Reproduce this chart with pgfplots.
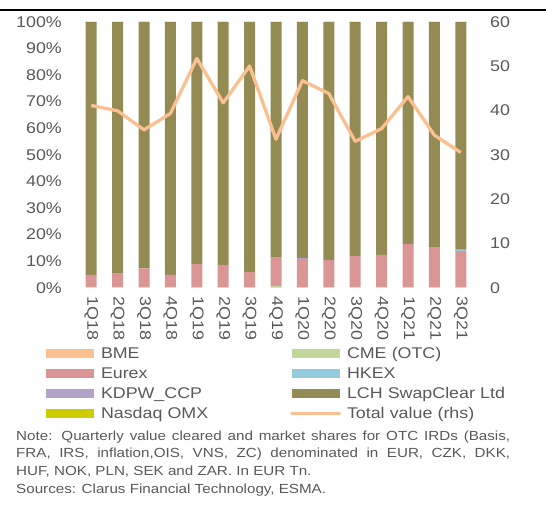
\documentclass[border=0pt]{standalone}
\usepackage{fontspec}
\setmainfont{Liberation Sans}[FakeStretch=1.15]
\usepackage{pgfplots}
\pgfplotsset{compat=1.18}
\definecolor{bme}{HTML}{FAC090}
\definecolor{cme}{HTML}{C3D69B}
\definecolor{eurex}{HTML}{D99694}
\definecolor{hkex}{HTML}{93CDDD}
\definecolor{kdpw}{HTML}{B3A2C7}
\definecolor{lch}{HTML}{948A54}
\definecolor{nasdaq}{HTML}{CCCC00}
\definecolor{totc}{HTML}{FAC090}
\definecolor{labgray}{HTML}{595959}
\pgfplotsset{
  sw/.style={fill=#1, draw=none, legend image code/.code={\fill[#1] (0bp,-4.5bp) rectangle (48bp,4.5bp);}},
}
\newcommand{\lab}{\fontsize{15.5bp}{18bp}\selectfont}
\newcommand{\notef}{\fontsize{13.2bp}{17.7bp}\selectfont}
\begin{document}
\begin{tikzpicture}[x=1bp,y=1bp]
\path[use as bounding box] (0,-516) rectangle (546,0);
\draw[line width=2bp] (0,-10) -- (546,-10);
\begin{axis}[
  at={(78bp,-287.7bp)}, anchor=south west,
  scale only axis, width=396bp, height=266bp,
  xmin=-0.5, xmax=14.5, ymin=0, ymax=100,
  ybar stacked, bar width=11bp,
  axis line style={draw=none}, major tick length=0pt,
  /pgf/number format/assume math mode=true,
  xtick={0,...,14},
  xticklabels={1Q18,2Q18,3Q18,4Q18,1Q19,2Q19,3Q19,4Q19,1Q20,2Q20,3Q20,4Q20,1Q21,2Q21,3Q21},
  ytick={0,10,...,100},
  yticklabels={0\%,10\%,20\%,30\%,40\%,50\%,60\%,70\%,80\%,90\%,100\%},
  ticklabel style={font=\lab, text=labgray},
  yticklabel style={anchor=east, inner sep=0pt, xshift=-16bp},
  xticklabel style={rotate=-90, anchor=west, inner sep=0pt},
  xticklabel shift=9bp,
  legend columns=2,
  legend cell align=left,
  legend style={at={(-0.0808,-0.2173)}, anchor=north west, draw=none, fill=none,
    inner sep=0pt, outer sep=0pt, row sep=5bp, column sep=0pt,
    font=\lab, text=labgray,
    nodes={inner sep=0pt, text width=189bp, text height=13bp, text depth=2bp, align=left},
    /tikz/column 1/.style={column sep=7bp},
    /tikz/column 2/.style={column sep=0pt},
    /tikz/column 3/.style={column sep=6bp}},
]
\addplot[sw=bme] coordinates {(0,0)(1,0)(2,0)(3,0)(4,0)(5,0)(6,0)(7,0)(8,0)(9,0)(10,0)(11,0)(12,0)(13,0)(14,0)};
\addlegendentry{BME}
\addplot[sw=cme] coordinates {(0,0.3)(1,0.3)(2,0.3)(3,0.3)(4,0.2)(5,0.2)(6,0.2)(7,0.7)(8,0.2)(9,0.2)(10,0.3)(11,0.3)(12,0.2)(13,0.2)(14,0.2)};
\addlegendentry{CME (OTC)}
\addplot[sw=eurex] coordinates {(0,4.5)(1,5.2)(2,7.0)(3,4.5)(4,8.7)(5,8.3)(6,5.7)(7,10.8)(8,10.6)(9,10.3)(10,11.6)(11,12.0)(12,16.3)(13,15.1)(14,13.6)};
\addlegendentry{Eurex}
\addplot[sw=hkex] coordinates {(0,0)(1,0)(2,0)(3,0)(4,0)(5,0)(6,0)(7,0)(8,0)(9,0)(10,0)(11,0)(12,0)(13,0)(14,0.5)};
\addlegendentry{HKEX}
\addplot[sw=kdpw] coordinates {(0,0)(1,0)(2,0)(3,0)(4,0)(5,0)(6,0)(7,0)(8,0.3)(9,0)(10,0)(11,0)(12,0)(13,0)(14,0)};
\addlegendentry{KDPW\_CCP}
\addplot[sw=lch] coordinates {(0,95.0)(1,94.3)(2,92.5)(3,95.0)(4,90.9)(5,91.3)(6,93.9)(7,88.3)(8,88.7)(9,89.3)(10,87.9)(11,87.5)(12,83.3)(13,84.5)(14,85.5)};
\addlegendentry{LCH SwapClear Ltd}
\addplot[sw=nasdaq] coordinates {(0,0.2)(1,0.2)(2,0.2)(3,0.2)(4,0.2)(5,0.2)(6,0.2)(7,0.2)(8,0.2)(9,0.2)(10,0.2)(11,0.2)(12,0.2)(13,0.2)(14,0.2)};
\addlegendentry{Nasdaq OMX}
\addlegendimage{legend image code/.code={\draw[totc, line width=3bp, line cap=round] (0bp,0bp) -- (48bp,0bp);}}
\addlegendentry{Total value (rhs)}
\end{axis}
\begin{axis}[
  at={(78bp,-287.7bp)}, anchor=south west,
  scale only axis, width=396bp, height=266bp,
  xmin=-0.5, xmax=14.5, ymin=0, ymax=60,
  axis line style={draw=none}, major tick length=0pt,
  xtick=\empty,
  ytick={0,10,...,60},
  yticklabels={0,10,20,30,40,50,60},
  yticklabel pos=right,
  ticklabel style={font=\lab, text=labgray},
  yticklabel style={anchor=west, inner sep=0pt, xshift=16bp},
]
\addplot[totc, line width=3.3bp, line join=round, mark=none] coordinates {(0,41.1)(1,39.9)(2,35.6)(3,39.3)(4,51.7)(5,41.7)(6,50.0)(7,33.5)(8,46.7)(9,43.8)(10,33.0)(11,35.9)(12,43.1)(13,34.4)(14,30.5)};
\end{axis}
\begin{scope}[every node/.style={anchor=base west, inner sep=0pt, font=\notef, text=labgray}]
\node at (16,-440) {\makebox[494bp][s]{Note: Quarterly value cleared and market shares for OTC IRDs (Basis,}};
\node at (16,-457.7) {\makebox[494bp][s]{FRA, IRS, inflation,OIS, VNS, ZC) denominated in EUR, CZK, DKK,}};
\node at (16,-475.5) {HUF, NOK, PLN, SEK and ZAR. In EUR Tn.};
\node at (16,-493.2) {Sources: Clarus Financial Technology, ESMA.};
\end{scope}
\end{tikzpicture}
\end{document}
